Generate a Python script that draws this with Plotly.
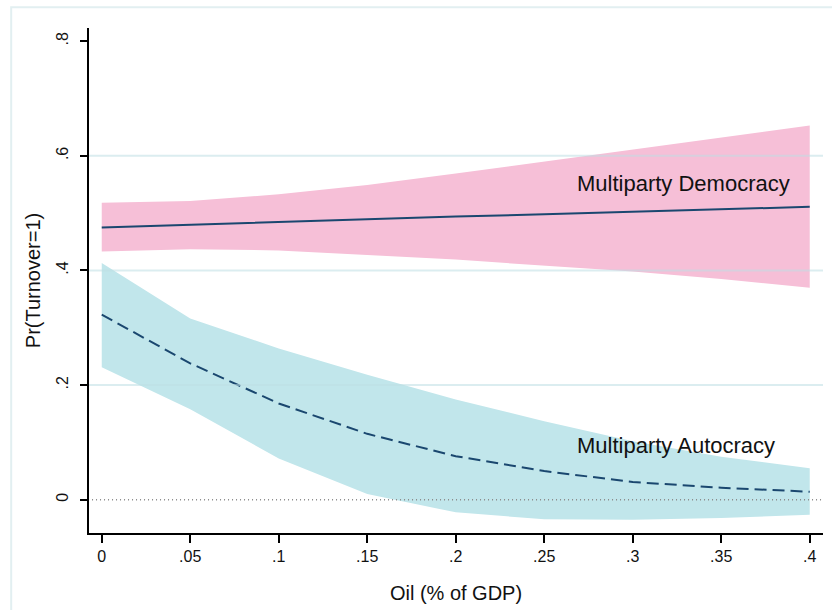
import plotly.graph_objects as go

# Oil share of GDP (x) and predicted probability of turnover with 95% CIs
oil = [0.0, 0.05, 0.10, 0.15, 0.20, 0.25, 0.30, 0.35, 0.40]

dem_pred = [0.475, 0.480, 0.484, 0.489, 0.494, 0.498, 0.502, 0.507, 0.511]
dem_lo = [0.433, 0.437, 0.435, 0.427, 0.419, 0.409, 0.398, 0.385, 0.370]
dem_hi = [0.518, 0.521, 0.533, 0.549, 0.569, 0.590, 0.611, 0.632, 0.653]

aut_pred = [0.323, 0.238, 0.168, 0.115, 0.076, 0.050, 0.031, 0.021, 0.014]
aut_lo = [0.231, 0.158, 0.072, 0.010, -0.022, -0.034, -0.035, -0.032, -0.026]
aut_hi = [0.413, 0.316, 0.264, 0.218, 0.175, 0.137, 0.102, 0.075, 0.055]

x_ticks = [0, 0.05, 0.10, 0.15, 0.20, 0.25, 0.30, 0.35, 0.40]
x_tick_text = ["0", ".05", ".1", ".15", ".2", ".25", ".3", ".35", ".4"]
y_ticks = [0, 0.2, 0.4, 0.6, 0.8]
y_tick_text = ["0", ".2", ".4", ".6", ".8"]
grid_levels = [0.2, 0.4, 0.6]

label_dem = "Multiparty Democracy"
label_aut = "Multiparty Autocracy"

NAVY = "#1a476f"
PINK = "#f6bfd7"
CYAN = "#c1e6eb"
FONT = "Liberation Sans, Arial, sans-serif"

fig = go.Figure()

# confidence bands
fig.add_trace(go.Scatter(
    x=oil + oil[::-1], y=dem_hi + dem_lo[::-1],
    fill="toself", fillcolor=PINK, line=dict(width=0),
    mode="lines", hoverinfo="skip", showlegend=False))
fig.add_trace(go.Scatter(
    x=oil + oil[::-1], y=aut_hi + aut_lo[::-1],
    fill="toself", fillcolor=CYAN, line=dict(width=0),
    mode="lines", hoverinfo="skip", showlegend=False))

# reference line at zero
fig.add_trace(go.Scatter(
    x=[-0.01, 0.41], y=[0, 0], mode="lines",
    line=dict(color="#8a8a8a", width=1.5, dash="1px,3px"),
    hoverinfo="skip", showlegend=False))

# predicted probabilities
fig.add_trace(go.Scatter(
    x=oil, y=dem_pred, mode="lines",
    line=dict(color=NAVY, width=2), showlegend=False))
fig.add_trace(go.Scatter(
    x=oil, y=aut_pred, mode="lines",
    line=dict(color=NAVY, width=2, dash="12px,6px"), showlegend=False))

# horizontal grid lines over the bands
for g in grid_levels:
    fig.add_shape(type="line", xref="paper", yref="y",
                  x0=0, x1=1, y0=g, y1=g, layer="above",
                  line=dict(color="rgba(190,222,228,0.55)", width=2))

# outer graph-region border
fig.add_shape(type="rect", xref="paper", yref="paper",
              x0=-0.106, x1=1.3, y0=-0.4, y1=1.041, layer="below",
              line=dict(color="#e2eff1", width=2))

fig.add_annotation(x=0.2674, y=0.551, text=label_dem, showarrow=False,
                   xanchor="left", yanchor="middle",
                   font=dict(family=FONT, size=22, color="#111111"))
fig.add_annotation(x=0.2674, y=0.094, text=label_aut, showarrow=False,
                   xanchor="left", yanchor="middle",
                   font=dict(family=FONT, size=22, color="#111111"))

fig.update_layout(
    width=832, height=610,
    margin=dict(l=89, r=9, t=28, b=74),
    paper_bgcolor="white", plot_bgcolor="white",
    font=dict(family=FONT, color="#111111"),
    xaxis=dict(
        range=[-0.0072, 0.4075], tickvals=x_ticks, ticktext=x_tick_text,
        showgrid=False, zeroline=False, showline=True, linecolor="black",
        linewidth=1.5, ticks="outside", ticklen=8, tickwidth=1.5,
        tickcolor="black", tickfont=dict(size=16),
        title=dict(text="Oil (% of GDP)", font=dict(size=20), standoff=22)),
    yaxis=dict(
        range=[-0.058, 0.823], tickvals=y_ticks, ticktext=y_tick_text,
        showgrid=False, zeroline=False, showline=True, linecolor="black",
        linewidth=1.5, ticks="outside", ticklen=7, tickwidth=1.5,
        tickcolor="black", tickfont=dict(size=16), tickangle=-90,
        ticklabelstandoff=6,
        title=dict(text="Pr(Turnover=1)", font=dict(size=20), standoff=8)),
)

fig.write_html("out.html")
